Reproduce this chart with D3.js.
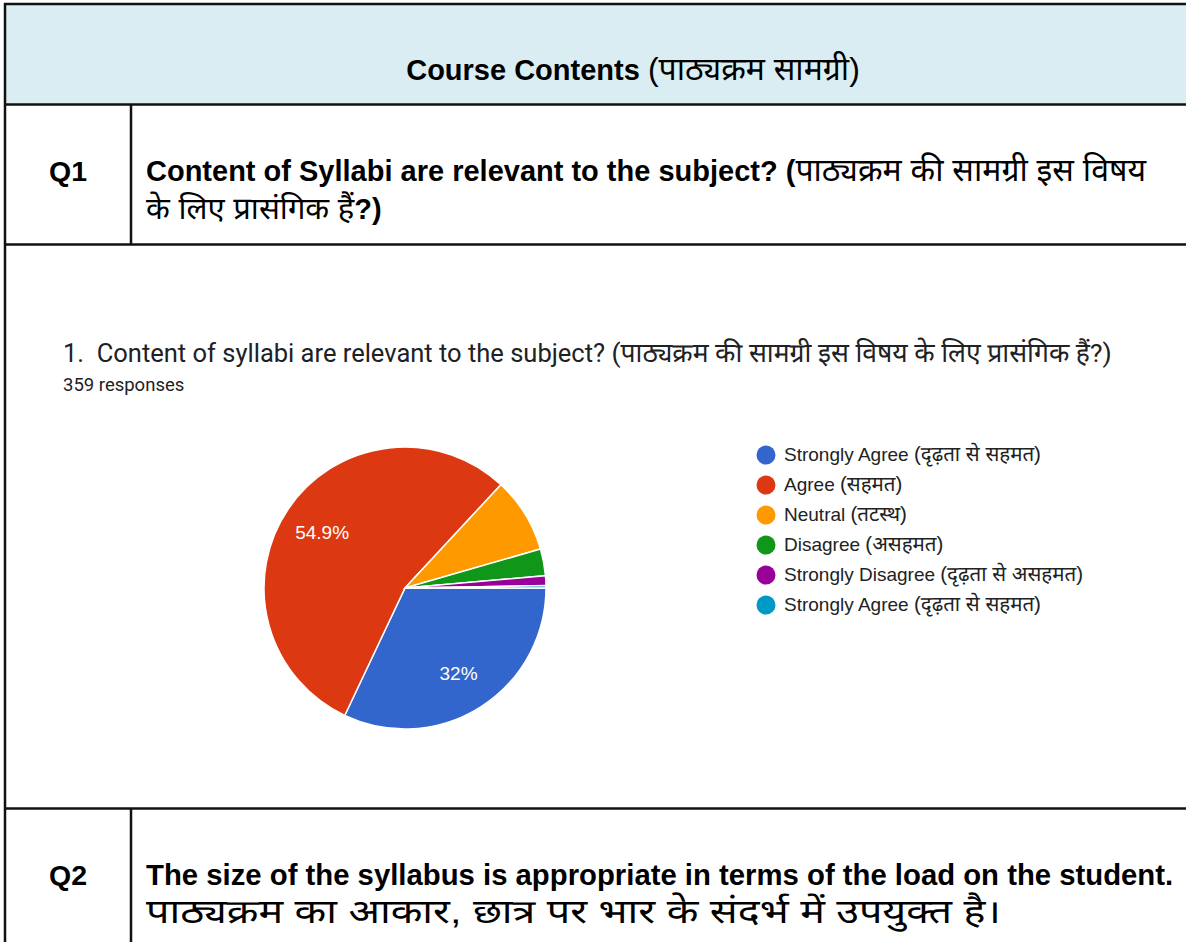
<!DOCTYPE html>
<html>
<head>
<meta charset="utf-8">
<script src="https://cdn.jsdelivr.net/npm/d3@7"></script>
<style>
  body { margin: 0; background: #fff; }
  svg { display: block; }
</style>
</head>
<body>
<div id="chart"></div>
<script>
// response categories and counts (359 responses)
var categories = [
  ["Strongly Agree ", "(दृढ़ता से सहमत)"],
  ["Agree ", "(सहमत)"],
  ["Neutral ", "(तटस्थ)"],
  ["Disagree ", "(असहमत)"],
  ["Strongly Disagree ", "(दृढ़ता से असहमत)"],
  ["Strongly Agree ", "(दृढ़ता से सहमत)"]
];
var counts = [115, 197, 31, 11, 4, 1];
var colors = ["#3366cc", "#dc3912", "#ff9900", "#109618", "#990099", "#0099c6"];
var sliceLabels = ["32%", "54.9%", "", "", "", ""];

// text pieces: [text, weight, devanagari?]
var pageTitle = [["Course Contents ", "bold", 0], ["(पाठ्यक्रम सामग्री)", "normal", 1]];
var q1Lines = [
  [["Content of Syllabi are relevant to the subject? (", "bold", 0], ["पाठ्यक्रम की सामग्री इस विषय", "normal", 1]],
  [["के लिए प्रासंगिक हैं", "normal", 1], ["?)", "bold", 0]]
];
var q2Lines = [
  [["The size of the syllabus is appropriate in terms of the load on the student.", "bold", 0]],
  [["पाठ्यक्रम का आकार, छात्र पर भार के संदर्भ में उपयुक्त है।", "normal", 1]]
];
var chartTitle = [["1.\u00a0 Content of syllabi are relevant to the subject? ", "normal", 0], ["(पाठ्यक्रम की सामग्री इस विषय के लिए प्रासंगिक हैं?)", "normal", 1]];
var responses = "359 responses";

(function() {
	var W = 1186, H = 942;
	var svg = d3.select("#chart").append("svg").attr("width", W).attr("height", H);
	var sans = "Arial, 'Liberation Sans', 'Noto Sans Devanagari', sans-serif";
	var roboto = "Roboto, Arial, 'Noto Sans Devanagari', sans-serif";

	// table background + lines
	svg.append("rect").attr("x", 4).attr("y", 4).attr("width", W).attr("height", 100).attr("fill", "#daedf3");
	var lines = [
		[4, 4, W + 5, 4],
		[4, 104.5, W + 5, 104.5],
		[4, 244.5, W + 5, 244.5],
		[4, 808.5, W + 5, 808.5],
		[5, 3, 5, H + 5],
		[131, 104.5, 131, 244.5],
		[131, 808.5, 131, H + 5]
	];
	svg.selectAll("line.grid").data(lines).enter().append("line")
		.attr("x1", function(d) { return d[0]; })
		.attr("y1", function(d) { return d[1]; })
		.attr("x2", function(d) { return d[2]; })
		.attr("y2", function(d) { return d[3]; })
		.attr("stroke", "#111").attr("stroke-width", 2.5);

	function addParts(tx, parts, size, devSize) {
		parts.forEach(function(p) {
			tx.append("tspan").attr("font-weight", p[1])
				.attr("font-size", p[2] ? devSize : size).text(p[0]);
		});
	}

	// header
	var t = svg.append("text").attr("x", 633).attr("y", 80).attr("text-anchor", "middle")
		.attr("font-family", sans).attr("fill", "#000");
	addParts(t, pageTitle, 29, 32);

	function rowText(y0, label, rows, latSize, devSizes, widths) {
		svg.append("text").attr("x", 68).attr("y", y0).attr("text-anchor", "middle")
			.attr("font-family", sans).attr("font-size", 28.5).attr("font-weight", "bold").text(label);
		rows.forEach(function(parts, i) {
			var tx = svg.append("text").attr("x", 146).attr("y", y0 + i * 38)
				.attr("font-family", sans).attr("fill", "#000");
			if (widths && widths[i]) tx.attr("textLength", widths[i]).attr("lengthAdjust", "spacingAndGlyphs");
			addParts(tx, parts, latSize, devSizes[i]);
		});
	}
	rowText(181, "Q1", q1Lines, 29, [32, 31]);
	rowText(885, "Q2", q2Lines, 29.3, [31, 33], [0, 855]);

	// chart title
	var ct = svg.append("text").attr("x", 63).attr("y", 362)
		.attr("font-family", roboto).attr("fill", "#202124");
	addParts(ct, chartTitle, 25.5, 26.5);
	svg.append("text").attr("x", 63).attr("y", 391)
		.attr("font-family", roboto).attr("font-size", 18.5).attr("fill", "#202124").text(responses);

	// pie
	var data = counts.map(function(v, i) { return { value: v, i: i }; });
	var pie = d3.pie().sort(null).value(function(d) { return d.value; })
		.startAngle(Math.PI / 2).endAngle(Math.PI / 2 + 2 * Math.PI);
	var r = 141;
	var arc = d3.arc().innerRadius(0).outerRadius(r);
	var labelArc = d3.arc().innerRadius(r * 0.71).outerRadius(r * 0.71);
	var g = svg.append("g").attr("transform", "translate(405,588)");
	var arcs = pie(data);
	g.selectAll("path").data(arcs).enter().append("path")
		.attr("d", arc)
		.attr("fill", function(d) { return colors[d.data.i]; })
		.attr("stroke", "#fff").attr("stroke-width", 1.5);
	g.selectAll("text").data(arcs).enter().append("text")
		.attr("transform", function(d) { return "translate(" + labelArc.centroid(d) + ")"; })
		.attr("text-anchor", "middle").attr("dy", "0.4em")
		.attr("font-family", sans).attr("font-size", 19).attr("fill", "#fff")
		.text(function(d) { return sliceLabels[d.data.i]; });

	// legend
	var leg = svg.append("g").attr("transform", "translate(766,455)");
	var y = d3.scalePoint().domain(d3.range(categories.length)).range([0, 150]);
	var item = leg.selectAll("g").data(categories).enter().append("g")
		.attr("transform", function(d, i) { return "translate(0," + y(i) + ")"; });
	item.append("circle").attr("r", 9.5).attr("fill", function(d, i) { return colors[i]; });
	var lt = item.append("text").attr("x", 18).attr("dy", "0.35em")
		.attr("font-family", sans).attr("fill", "#222");
	lt.append("tspan").attr("font-size", 19).text(function(d) { return d[0]; });
	lt.append("tspan").attr("font-size", 20.5).text(function(d) { return d[1]; });
})();
</script>
</body>
</html>
